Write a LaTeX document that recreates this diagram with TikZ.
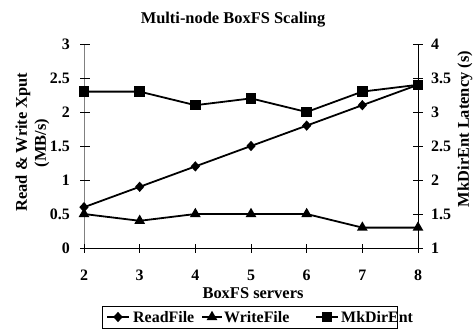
\documentclass[tikz,border=0pt]{standalone}
\usepackage{fontspec}
\setmainfont{Liberation Serif}
\usetikzlibrary{shapes.geometric}
\begin{document}
\begin{tikzpicture}[x=1bp,y=-1bp,
  ticklab/.style={font=\fontsize{16}{16}\selectfont\bfseries, inner sep=0},
  axlab/.style={font=\fontsize{16.5}{18}\selectfont\bfseries, inner sep=0},
  leglab/.style={font=\fontsize{16}{16}\selectfont\bfseries, inner sep=0, anchor=west},
  axisline/.style={line width=1bp},
  series/.style={line width=1.8bp, line join=round},
  dmark/.style={diamond, fill=black, inner sep=0, minimum width=9.5bp, minimum height=10.5bp},
  tmark/.style={regular polygon, regular polygon sides=3, fill=black, inner sep=0, minimum size=12.5bp},
  smark/.style={rectangle, fill=black, inner sep=0, minimum size=10.5bp},
]
\useasboundingbox (0,0) rectangle (473,329);
\def\xs{55.667}
\def\ys{68}

% axes
\coordinate (bl) at (84,248);
\coordinate (tl) at (84,44);
\coordinate (br) at (418,248);
\coordinate (tr) at (418,44);
\draw[axisline, gray] (bl) -- (tl);
\draw[axisline] (bl) -- (br);
\draw[axisline] (br) -- (tr);

% left axis ticks and labels
\foreach \v/\t in {0/0,0.5/0.5,1/1,1.5/1.5,2/2,2.5/2.5,3/3} {
  \pgfmathsetmacro{\py}{248-\v*\ys}
  \draw[axisline] (80,\py) -- (90,\py);
  \node[ticklab, anchor=east] (ll\t) at (70,\py) {\t};
}
% right axis ticks and labels
\foreach \v/\t in {1/1,1.5/1.5,2/2,2.5/2.5,3/3,3.5/3.5,4/4} {
  \pgfmathsetmacro{\py}{248-(\v-1)*\ys}
  \draw[axisline] (413,\py) -- (423,\py);
  \node[ticklab, anchor=west] (rl\t) at (431,\py) {\t};
}
% bottom axis ticks and labels
\foreach \n in {2,...,8} {
  \pgfmathsetmacro{\px}{84+(\n-2)*\xs}
  \draw[axisline] (\px,244) -- (\px,253);
  \node[ticklab] (xl\n) at (\px,275) {\n};
}

% titles
\node[axlab] (title) at (233,20) {Multi-node BoxFS Scaling};
\node[axlab] (xlab) at (253,293) {BoxFS servers};
\node[axlab, rotate=90] (ylab) at (23,142) {Read \& Write Xput};
\node[axlab, rotate=90] (yunit) at (42,143) {(MB/s)};
\node[axlab, rotate=90] (rlab) at (465,129) {MkDirEnt Latency (s)};

% data points
\foreach \n/\r/\w/\m in {2/0.6/0.5/3.3, 3/0.9/0.4/3.3, 4/1.2/0.5/3.1, 5/1.5/0.5/3.2,
                         6/1.8/0.5/3.0, 7/2.1/0.3/3.3, 8/2.4/0.3/3.4} {
  \pgfmathsetmacro{\px}{84+(\n-2)*\xs}
  \coordinate (r\n) at (\px,248-\r*\ys);
  \coordinate (w\n) at (\px,248-\w*\ys);
  \coordinate (m\n) at (\px,248-\m*\ys+\ys);
}
\draw[series] (r2) -- (r3) -- (r4) -- (r5) -- (r6) -- (r7) -- (r8);
\draw[series] (w2) -- (w3) -- (w4) -- (w5) -- (w6) -- (w7) -- (w8);
\draw[series] (m2) -- (m3) -- (m4) -- (m5) -- (m6) -- (m7) -- (m8);
\foreach \n in {2,...,8} {
  \node[dmark] (rd\n) at (r\n) {};
  \node[tmark] (wt\n) at (w\n) {};
  \node[smark] (ms\n) at (m\n) {};
}

% legend
\draw[line width=0.8bp] (102,306) rectangle (397,328);
\coordinate (a1) at (107,317); \coordinate (a2) at (129,317);
\coordinate (b1) at (202,317); \coordinate (b2) at (222,317);
\coordinate (c1) at (316,317); \coordinate (c2) at (338,317);
\draw[series] (a1) -- (a2);
\draw[series] (b1) -- (b2);
\draw[series] (c1) -- (c2);
\node[dmark] (lgd) at (118,317) {};
\node[tmark] (lgt) at (212,317) {};
\node[smark] (lgs) at (327,317) {};
\node[leglab] (lg1) at (133,317.5) {ReadFile};
\node[leglab] (lg2) at (224,317.5) {WriteFile};
\node[leglab] (lg3) at (341,317.5) {MkDirEnt};
\end{tikzpicture}
\end{document}
